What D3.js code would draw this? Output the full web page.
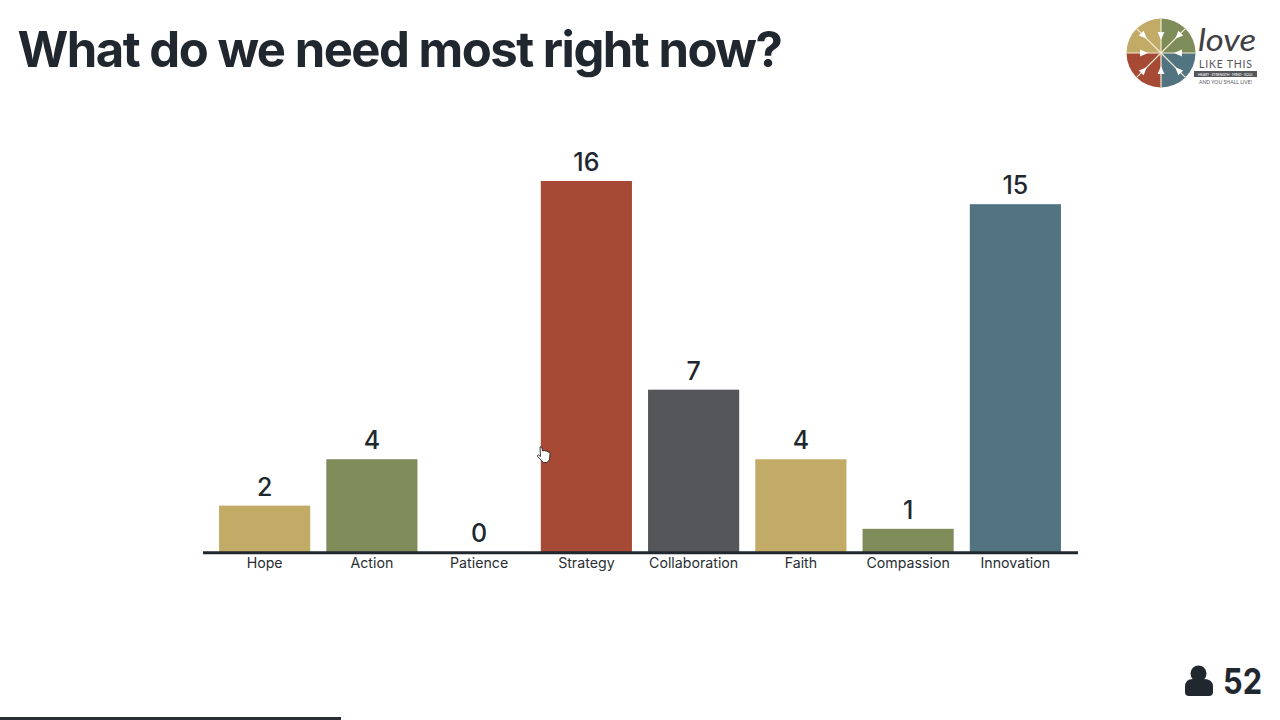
<!DOCTYPE html>
<html>
<head>
<meta charset="utf-8">
<script src="https://cdnjs.cloudflare.com/ajax/libs/d3/7.8.5/d3.min.js"></script>
<style>
  html, body { margin: 0; padding: 0; background: #fff; overflow: hidden; }
  text { font-family: Inter, "Open Sans", sans-serif; fill: #21272e; }
</style>
</head>
<body>
<svg id="io" width="1280" height="720"></svg>
<script>
const categories = ['Hope', 'Action', 'Patience', 'Strategy', 'Collaboration', 'Faith', 'Compassion', 'Innovation'];
const votes = [2, 4, 0, 16, 7, 4, 1, 15];
const barColors = ['#c2ab67', '#7e8c5a', '#c2ab67', '#a64a35', '#55565a', '#c2ab67', '#7e8c5a', '#527480'];
const titleText = 'What do we need most right now?';
const participants = 52;
const logoColors = ['#7e8c5a', '#527480', '#a64a35', '#c2ab67'];

const svg = d3.select('#io');
const ink = '#21272e';

svg.append('rect').attr('width', 1280).attr('height', 720).attr('fill', '#fff');

// title
svg.append('text')
  .attr('x', 17.5).attr('y', 67)
  .attr('font-size', 49).attr('font-weight', 700)
  .attr('letter-spacing', -1.5)
  .text(titleText);

// scales
const xScale = d3.scaleBand()
  .domain(categories)
  .range([211, 1069])
  .paddingInner(0.15)
  .paddingOuter(0.075);

const yScale = d3.scaleLinear().domain([0, 16]).range([552, 181]);

// bars
svg.selectAll('.bar')
  .data(categories)
  .enter()
  .append('rect')
  .attr('class', 'bar')
  .attr('x', d => xScale(d))
  .attr('width', xScale.bandwidth())
  .attr('y', (d, i) => yScale(votes[i]))
  .attr('height', (d, i) => 552 - yScale(votes[i]))
  .attr('fill', (d, i) => barColors[i]);

// value labels
svg.selectAll('.value')
  .data(categories)
  .enter()
  .append('text')
  .attr('class', 'value')
  .attr('x', d => xScale(d) + xScale.bandwidth() / 2)
  .attr('y', (d, i) => yScale(votes[i]) - 10)
  .attr('text-anchor', 'middle')
  .attr('font-size', 25)
  .attr('font-weight', 500)
  .text((d, i) => votes[i]);

// category axis
const axis = svg.append('g')
  .attr('transform', 'translate(0,552)')
  .call(d3.axisBottom(xScale).tickSize(0).tickPadding(6));
axis.select('.domain').remove();
axis.selectAll('text')
  .attr('font-size', 14.2)
  .style('font-family', 'Inter, sans-serif')
  .style('fill', '#2a2e33');

svg.append('line')
  .attr('x1', 203).attr('x2', 1078)
  .attr('y1', 552.7).attr('y2', 552.7)
  .attr('stroke', ink).attr('stroke-width', 3);

// logo wheel
const logo = svg.append('g').attr('transform', 'translate(1161,53)');
const pie = d3.pie().sort(null).value(1);
const arc = d3.arc().innerRadius(0).outerRadius(34.5);
logo.selectAll('path.quad')
  .data(pie(logoColors))
  .enter()
  .append('path')
  .attr('class', 'quad')
  .attr('d', arc)
  .attr('fill', d => d.data);

d3.range(8).forEach(i => {
  const spoke = logo.append('g').attr('transform', `rotate(${i * 45})`);
  const diagonal = i % 2 === 1;
  const tip = diagonal ? -20 : -13;
  spoke.append('line')
    .attr('x1', 0).attr('x2', 0).attr('y1', 0).attr('y2', -34.5)
    .attr('stroke', '#f3ead2').attr('stroke-width', 1.2);
  spoke.append('path')
    .attr('d', `M0,${tip} L-3.4,${tip - 8} L3.4,${tip - 8} Z`)
    .attr('fill', '#fff');
});

svg.append('text')
  .attr('x', 1198).attr('y', 50.5)
  .attr('font-size', 30)
  .attr('font-style', 'italic')
  .attr('font-weight', 400)
  .attr('textLength', 58)
  .attr('lengthAdjust', 'spacingAndGlyphs')
  .style('font-family', 'Lato, sans-serif')
  .style('fill', '#3f4044')
  .text('love');

svg.append('text')
  .attr('x', 1199).attr('y', 68)
  .attr('font-size', 10.5)
  .attr('textLength', 53)
  .style('font-family', 'Lato, sans-serif')
  .style('fill', '#55565a')
  .text('LIKE THIS');

svg.append('rect')
  .attr('x', 1194).attr('y', 71).attr('width', 63).attr('height', 6)
  .attr('fill', '#55565a');

svg.append('text')
  .attr('x', 1198).attr('y', 75.6)
  .attr('font-size', 3.6)
  .attr('textLength', 55)
  .style('font-family', 'Lato, sans-serif')
  .style('fill', '#fff')
  .text('HEART · STRENGTH · MIND · SOUL');

svg.append('text')
  .attr('x', 1199).attr('y', 84)
  .attr('font-size', 5)
  .attr('textLength', 53)
  .style('font-family', 'Lato, sans-serif')
  .style('fill', '#55565a')
  .text('AND YOU SHALL LIVE!');

// participant count
const person = svg.append('g').attr('fill', ink);
person.append('circle').attr('cx', 1198.5).attr('cy', 673.5).attr('r', 8);
person.append('path')
  .attr('d', 'M1185,692 v-5 q0,-8 8,-8 q5.5,3 11,0 q9,0 9,8 v5 q0,4 -4,4 h-20 q-4,0 -4,-4 Z');

svg.append('text')
  .attr('x', 1223).attr('y', 694)
  .attr('font-size', 36).attr('font-weight', 700)
  .attr('textLength', 39)
  .attr('lengthAdjust', 'spacingAndGlyphs')
  .text(participants);

// mouse pointer
svg.append('path')
  .attr('d', 'M540,447 q1.5,-1 2,1 l.5,3 q2,-1 3,0 q2,-.5 2.5,1 q2,-.3 2,1.5 l-.5,6 q-1,2.5 -3,3 h-3 l-6,-6 q-.5,-1.5 1,-1.5 l2,1.5 Z')
  .attr('fill', '#fff').attr('stroke', '#222').attr('stroke-width', 0.9);

// progress strip along the bottom edge
svg.append('rect')
  .attr('x', 0).attr('y', 717).attr('width', 341).attr('height', 3)
  .attr('fill', '#2a2f35');
</script>
</body>
</html>
